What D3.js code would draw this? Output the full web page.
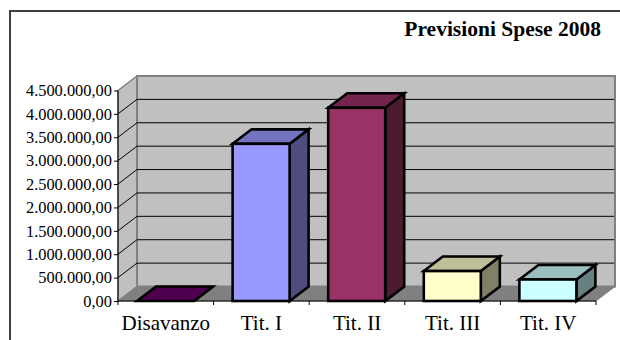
<!DOCTYPE html>
<html>
<head>
<meta charset="utf-8">
<script src="https://cdn.jsdelivr.net/npm/d3@7/dist/d3.min.js"></script>
<style>
html,body{margin:0;padding:0;background:#fff;}
svg{display:block;font-family:"Liberation Serif",serif;}
</style>
</head>
<body>
<svg id="chart" width="620" height="340"></svg>
<script>
const categories = ["Disavanzo", "Tit. I", "Tit. II", "Tit. III", "Tit. IV"];
const spese = [0, 3360000, 4130000, 640000, 460000];
const colori = ["#660066", "#9999ff", "#993366", "#ffffcc", "#ccffff"];
const tickValues = [0, 500000, 1000000, 1500000, 2000000, 2500000, 3000000, 3500000, 4000000, 4500000];
const titolo = "Previsioni Spese 2008";

const svg = d3.select("#chart");
const depthX = 19, depthY = 14.5;
const x = d3.scaleBand().domain(categories).range([118, 596]).paddingInner(0).paddingOuter(0);
const y = d3.scaleLinear().domain([0, 4500000]).range([301, 90.5]);

// Italian number format: dot for thousands, comma for decimals
const fmt = d3.formatLocale({decimal: ",", thousands: ".", grouping: [3], currency: ["", "€"]}).format(",.2f");

const poly = pts => pts.map(p => p.join(",")).join(" ");
const [x0, x1] = x.range();
const yBase = y(0), yTop = y(4500000);

// Outer chart frame, open to the right and at the bottom
svg.append("path").attr("d", "M10,340V11H620").attr("fill", "none").attr("stroke", "#404040").attr("stroke-width", 2);

svg.append("text").attr("x", 601).attr("y", 36).attr("text-anchor", "end")
  .attr("font-size", 21.5).attr("font-weight", "bold").attr("fill", "#000").text(titolo);

// Walls and floor of the 3D plot area
const walls = svg.append("g");
walls.append("polygon")
  .attr("points", poly([[x0, yBase], [x0, yTop], [x0 + depthX, yTop - depthY], [x0 + depthX, yBase - depthY]]))
  .attr("fill", "#c0c0c0").attr("stroke", "#808080").attr("stroke-width", 1.5);
walls.append("polygon")
  .attr("points", poly([[x0 + depthX, yBase - depthY], [x0 + depthX, yTop - depthY], [x1 + depthX, yTop - depthY], [x1 + depthX, yBase - depthY]]))
  .attr("fill", "#c0c0c0").attr("stroke", "#808080").attr("stroke-width", 2);
walls.append("polygon")
  .attr("points", poly([[x0, yBase], [x0 + depthX, yBase - depthY], [x1 + depthX, yBase - depthY], [x1, yBase]]))
  .attr("fill", "#808080").attr("stroke", "#808080");

// Gridlines run along the side wall and across the back wall
const grid = walls.append("g").attr("fill", "none").attr("stroke", "#000").attr("stroke-width", 1);
tickValues.slice(1, -1).forEach(v => {
  const yy = y(v);
  grid.append("path").attr("d", `M${x0},${yy}L${x0 + depthX},${yy - depthY}H${x1 + depthX - 1}`);
});

// Value axis
const yAxis = svg.append("g").attr("transform", `translate(${x0},0)`)
  .call(d3.axisLeft(y).tickValues(tickValues).tickFormat(fmt).tickSize(4).tickPadding(2));
yAxis.selectAll("text").attr("font-size", 16.4).attr("font-family", "Liberation Serif").attr("fill", "#000");
yAxis.selectAll("line,path").attr("stroke", "#000");
yAxis.select(".domain").attr("d", `M0,${yTop}V${yBase}`);

// Category axis with ticks on the band edges
const xAxis = svg.append("g").attr("transform", `translate(0,${yBase})`);
xAxis.append("line").attr("x1", x0).attr("x2", x1).attr("stroke", "#000");
[...categories.map(c => x(c)), x1].forEach(t => {
  xAxis.append("line").attr("x1", t).attr("x2", t).attr("y1", 0).attr("y2", 4).attr("stroke", "#000");
});
xAxis.selectAll("text.cat").data(categories).join("text").attr("class", "cat")
  .attr("x", c => x(c) + x.bandwidth() / 2).attr("y", 29)
  .attr("text-anchor", "middle").attr("font-size", 21).attr("fill", "#000").text(c => c);

// Extruded bars: front, side and top faces
const barW = 57, gap = depthX;
const bars = svg.append("g").attr("stroke", "#000").attr("stroke-width", 2.6).attr("stroke-linejoin", "miter");
categories.forEach((c, i) => {
  const l = x(c) + gap, r = l + barW, t = y(spese[i]);
  const base = d3.color(colori[i]);
  const shade = k => d3.rgb(base.r * k, base.g * k, base.b * k).formatHex();
  const g = bars.append("g");
  g.append("polygon").attr("points", poly([[r, yBase], [r, t], [r + depthX, t - depthY], [r + depthX, yBase - depthY]])).attr("fill", shade(0.5));
  g.append("polygon").attr("points", poly([[l, t], [l + depthX, t - depthY], [r + depthX, t - depthY], [r, t]])).attr("fill", shade(0.75));
  g.append("rect").attr("x", l).attr("y", t).attr("width", barW).attr("height", yBase - t).attr("fill", colori[i]);
});
</script>
</body>
</html>
